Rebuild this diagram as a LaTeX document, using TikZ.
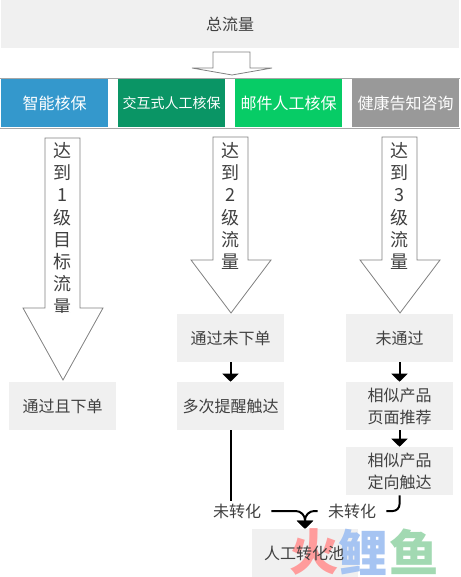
\documentclass[tikz,border=0pt]{standalone}
\usepackage{fontspec}
\setmainfont{Noto Sans CJK SC}
\usetikzlibrary{arrows.meta}
\definecolor{boxgray}{HTML}{F0F0F0}
\definecolor{inkc}{HTML}{404040}
\definecolor{edgec}{HTML}{808080}
\definecolor{bandc}{HTML}{A6A6A6}
\definecolor{cblue}{HTML}{3498CC}
\definecolor{cdeep}{HTML}{0A9565}
\definecolor{cgreen}{HTML}{07CC66}
\definecolor{cgray}{HTML}{999999}
\definecolor{wred}{HTML}{FF9C9C}
\definecolor{wblue}{HTML}{A6C4F2}
\definecolor{wgreen}{HTML}{A2D9B2}
\newcommand{\fs}[2]{\fontsize{#1}{#2}\selectfont}
\tikzset{
  graybox/.style={fill=boxgray,text=inkc,minimum width=80.25pt,minimum height=36pt,inner sep=0pt,align=center,font=\fs{12}{16.5}},
  topbox/.style={fill=boxgray,text=inkc,minimum width=343.5pt,minimum height=36pt,inner sep=0pt,font=\fs{12}{16}},
  colorbox/.style={text=white,minimum width=80.25pt,minimum height=36pt,inner sep=0pt,font=\fs{12}{16}},
  blockarrow/.style={draw=edgec,fill=white,line width=0.6pt,line join=miter},
  columntext/.style={text=inkc,align=center,inner sep=0pt,anchor=north,font=\fs{13.5}{16.7}},
  flow/.style={draw=black,line width=1.5pt,-{Triangle[width=12pt,length=6pt]}},
  flowplain/.style={draw=black,line width=1.5pt},
  freelabel/.style={text=inkc,inner xsep=7.5pt,inner ysep=2pt,font=\fs{12}{16}},
  mark1/.style={font=\bfseries\fs{37}{40}}
}
\begin{document}
\begin{tikzpicture}[x=0.75pt,y=-0.75pt]
\useasboundingbox (0,0) rectangle (460,577);
\node[topbox] (total) at (230,24) {总流量};
% small arrow
\draw[blockarrow] (213,52) -- (250,52) -- (250,68) -- (272,68) -- (232,75) -- (192,68) -- (213,68) -- cycle;
% band
\draw[bandc,line width=0.6pt] (0,78) -- (460,78);
\draw[bandc,line width=0.6pt] (0,128) -- (460,128);
\node[colorbox,fill=cblue] (c1) at (54.5,103) {智能核保};
\node[colorbox,fill=cdeep,font=\fs{10.5}{14}] (c2) at (171.5,103) {交互式人工核保};
\node[colorbox,fill=cgreen] (c3) at (288.5,103) {邮件人工核保};
\node[colorbox,fill=cgray] (c4) at (405.5,103) {健康告知咨询};
% block arrows
\draw[blockarrow] (45,138) -- (80,138) -- (80,308) -- (103,308) -- (63,380) -- (23,308) -- (45,308) -- cycle;
\draw[blockarrow] (213,137) -- (248,137) -- (248,260) -- (271,260) -- (231,313) -- (191,260) -- (213,260) -- cycle;
\draw[blockarrow] (382,137) -- (417,137) -- (417,260) -- (440,260) -- (400,313) -- (360,260) -- (382,260) -- cycle;
\begin{scope}
\clip (45,138) rectangle (80,312);
\node[columntext] (t1) at (62.5,142) {达\\到\\1\\级\\目\\标\\流\\量};
\end{scope}
\begin{scope}
\clip (213,137) rectangle (248,268);
\node[columntext] (t2) at (230.5,142) {达\\到\\2\\级\\流\\量};
\end{scope}
\begin{scope}
\clip (382,137) rectangle (417,268);
\node[columntext] (t3) at (399.5,142) {达\\到\\3\\级\\流\\量};
\end{scope}
% boxes
\node[graybox] (a1) at (62.5,406) {通过且下单};
\node[graybox] (b1) at (230.5,338) {通过未下单};
\node[graybox] (b2) at (230.5,406) {多次提醒触达};
\node[graybox] (d1) at (399.5,338) {未通过};
\node[graybox] (d2) at (399.5,406) {相似产品\\页面推荐};
\node[graybox] (d3) at (399.5,471) {相似产品\\定向触达};
\node[graybox,minimum width=80pt] (pool) at (305,553) {};
% watermark
\node[mark1,text=wred] (w1) at (314,552) {火};
\node[mark1,text=wblue] (w2) at (363,552) {鲤};
\node[mark1,text=wgreen] (w3) at (414,552) {鱼};
\node[text=inkc,inner sep=0pt,font=\fs{12}{16}] (pooltext) at (304,553) {人工转化池};
% labels
\node[freelabel] (l1) at (237,511) {未转化};
\node[freelabel] (l2) at (352,511) {未转化};
% connectors
\draw[flow] (b1.south) -- (b2.north);
\draw[flow] (d1.south) -- (d2.north);
\draw[flow] (d2.south) -- (d3.north);
\draw[flowplain] (b2.south) -- (b2.south |- l1.north);
\draw[flowplain,rounded corners=5pt] (d3.south) |- (l2.east);
\draw[flow,rounded corners=7pt] (l1.east) -| (pool.north);
\draw[flow,rounded corners=7pt] (l2.west) -| (pool.north);
\end{tikzpicture}
\end{document}
